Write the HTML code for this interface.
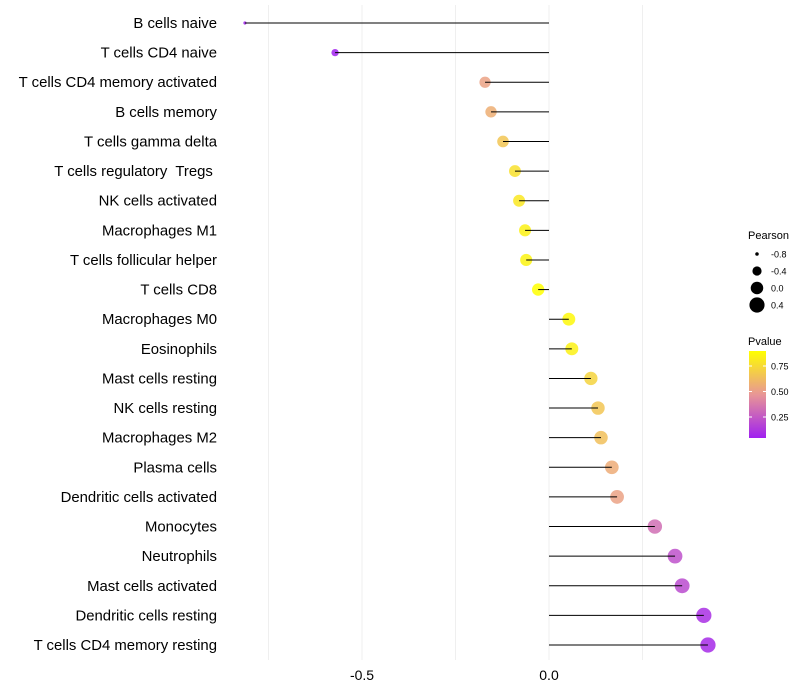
<!DOCTYPE html>
<html><head><meta charset="utf-8"><style>
body{margin:0;background:#fff}
svg{display:block;font-family:"Liberation Sans",sans-serif}
text{white-space:pre}
</style></head><body>
<svg id="chart" width="800" height="700"></svg>
<script>
const categories=["B cells naive","T cells CD4 naive","T cells CD4 memory activated","B cells memory","T cells gamma delta","T cells regulatory  Tregs ","NK cells activated","Macrophages M1","T cells follicular helper","T cells CD8","Macrophages M0","Eosinophils","Mast cells resting","NK cells resting","Macrophages M2","Plasma cells","Dendritic cells activated","Monocytes","Neutrophils","Mast cells activated","Dendritic cells resting","T cells CD4 memory resting"];
const pearson=[-0.813,-0.572,-0.171,-0.155,-0.123,-0.091,-0.080,-0.064,-0.061,-0.029,0.053,0.061,0.112,0.131,0.139,0.168,0.182,0.283,0.337,0.356,0.414,0.425];
const pvalue=[0.05,0.05,0.52,0.57,0.66,0.77,0.8,0.84,0.85,0.897,0.87,0.84,0.72,0.66,0.64,0.56,0.52,0.33,0.22,0.2,0.1,0.08];
const xTicks=[-0.5,0.0];
const xTickLabels=["-0.5","0.0"];
const xMinor=[-0.75,-0.25,0.25];
const sizeLegend=[-0.8,-0.4,0.0,0.4];
const colorTicks=[0.25,0.5,0.75];

const NS="http://www.w3.org/2000/svg";
const svg=document.getElementById('chart');
function el(t,a,p){const e=document.createElementNS(NS,t);for(const k in a)e.setAttribute(k,a[k]);(p||svg).appendChild(e);return e;}
const xs=v=>549+v*374;
const ys=i=>23+i*29.62;
const rs=v=>Math.sqrt(2.5+Math.max(0,(v+0.813))/1.238*56);
function lerp(a,b,t){return a.map((x,i)=>Math.round(x+(b[i]-x)*t));}
function col(p){const t=Math.min(1,Math.max(0,(p-0.044)/(0.897-0.044)));
 const c0=[160,32,240],c1=[232,150,150],c2=[255,255,0];
 const c=t<0.5?lerp(c0,c1,t*2):lerp(c1,c2,(t-0.5)*2);return `rgb(${c})`;}

[...xTicks,...xMinor].forEach(v=>{const g=el('line',{x1:xs(v),x2:xs(v),y1:5,y2:660,stroke:'#efefef','stroke-width':1});

});

categories.forEach((c,i)=>{
 const t=el('text',{x:217,y:ys(i)+5,'text-anchor':'end','font-size':14.9,fill:'#000'});t.textContent=c;
 
 
 const p=el('circle',{cx:xs(pearson[i]),cy:ys(i),r:rs(pearson[i]),fill:col(pvalue[i]),'fill-opacity':0.85});
 
 
 const l=el('line',{x1:xs(pearson[i]),x2:xs(0),y1:ys(i),y2:ys(i),stroke:'#000','stroke-width':1});
 
 
});
xTicks.forEach((v,i)=>{const t=el('text',{x:xs(v),y:680,'text-anchor':'middle','font-size':14,fill:'#000'});t.textContent=xTickLabels[i];
 
 });

const lt=el('text',{x:748,y:239,'font-size':11}); lt.textContent='Pearson';


sizeLegend.forEach((v,i)=>{const y=254+i*17;
 const c=el('circle',{cx:757,cy:y,r:rs(v),fill:'#000'});
 
 
 const t=el('text',{x:771,y:y+3.5,'font-size':9}); t.textContent=v.toFixed(1);
 
 });

const ct=el('text',{x:748,y:345,'font-size':11}); ct.textContent='Pvalue';


const defs=el('defs',{});const gr=el('linearGradient',{id:'g',x1:0,y1:1,x2:0,y2:0},defs);
for(let k=0;k<=10;k++){el('stop',{offset:k/10,'stop-color':col(0.044+k/10*(0.897-0.044))},gr);}
const bar=el('rect',{x:749,y:351,width:17,height:87,fill:'url(#g)'});


const cy=p=>438-(p-0.044)/(0.897-0.044)*87;
colorTicks.forEach(v=>{
 el('line',{x1:749,x2:752,y1:cy(v),y2:cy(v),stroke:'#fff'});el('line',{x1:763,x2:766,y1:cy(v),y2:cy(v),stroke:'#fff'});
 const t=el('text',{x:771,y:cy(v)+3.5,'font-size':9});t.textContent=v.toFixed(2);
 
 });
</script>
</body></html>
